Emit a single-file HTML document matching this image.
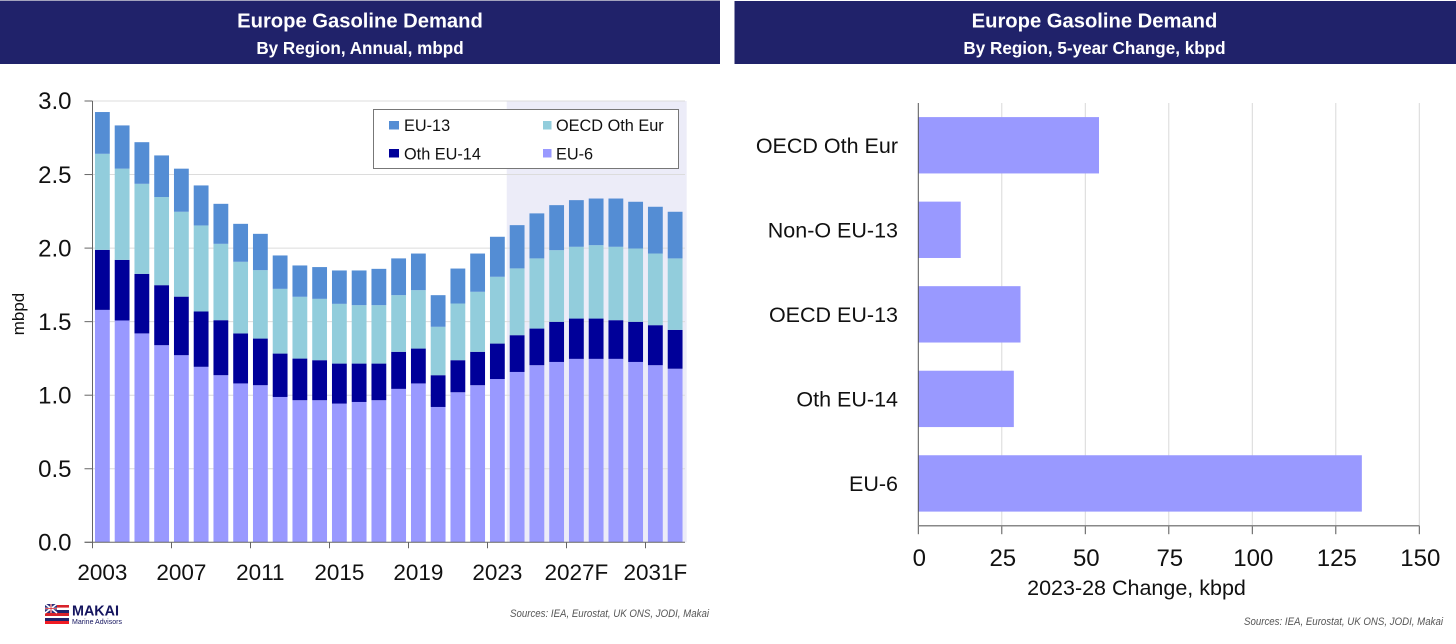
<!DOCTYPE html>
<html lang="en">
<head>
<meta charset="utf-8">
<title>Europe Gasoline Demand</title>
<style>
html,body{margin:0;padding:0;background:#fff;width:1456px;height:644px;overflow:hidden}
svg{display:block;font-family:"Liberation Sans",sans-serif}
</style>
</head>
<body>
<svg id="root" width="1456" height="644" viewBox="0 0 1456 644" xmlns="http://www.w3.org/2000/svg">
  <rect x="0" y="0" width="1456" height="644" fill="#ffffff"/>

  <g>
    <rect x="0" y="0" width="720" height="1" fill="#a3a3bd"/>
    <rect x="0" y="1" width="720" height="63" fill="#20226a"/>
    <text x="360" y="27.5" text-anchor="middle" font-size="20.2" font-weight="700" fill="#fff">Europe Gasoline Demand</text>
    <text x="360" y="54" text-anchor="middle" font-size="17.1" font-weight="700" fill="#fff">By Region, Annual, mbpd</text>
  </g>
  <g>
    <rect x="734.5" y="1" width="721.5" height="63" fill="#20226a"/>
    <text x="1094.5" y="27.5" text-anchor="middle" font-size="20.2" font-weight="700" fill="#fff">Europe Gasoline Demand</text>
    <text x="1094.5" y="54" text-anchor="middle" font-size="17.1" font-weight="700" fill="#fff">By Region, 5-year Change, kbpd</text>
  </g>

  <g id="left-chart"></g>

  <g>
    <rect x="373.5" y="109.5" width="305" height="59" fill="#fff" stroke="#777" stroke-width="1"/>
    <g>
      <rect x="389" y="121" width="10" height="8.5" fill="#548dd4"/>
      <text x="404" y="131" font-size="16.3" fill="#111">EU-13</text>
    </g>
    <g>
      <rect x="543" y="121" width="8.5" height="8.5" fill="#92cddc"/>
      <text x="556" y="131" font-size="16.3" fill="#111">OECD Oth Eur</text>
    </g>
    <g>
      <rect x="389" y="149" width="10" height="8.5" fill="#000099"/>
      <text x="404" y="159.5" font-size="16.3" fill="#111">Oth EU-14</text>
    </g>
    <g>
      <rect x="543" y="149" width="8.5" height="8.5" fill="#9999ff"/>
      <text x="556" y="159.5" font-size="16.3" fill="#111">EU-6</text>
    </g>
  </g>

  <text transform="translate(24,314) rotate(-90)" text-anchor="middle" font-size="17" fill="#111">mbpd</text>

  <g id="right-chart"></g>

  <text x="1136.5" y="595" text-anchor="middle" font-size="21.5" fill="#111">2023-28 Change, kbpd</text>

  <text x="510" y="617" font-size="11.3" font-style="italic" fill="#555" textLength="199" lengthAdjust="spacingAndGlyphs">Sources: IEA, Eurostat, UK ONS, JODI, Makai</text>
  <text x="1244" y="625" font-size="11.3" font-style="italic" fill="#555" textLength="199" lengthAdjust="spacingAndGlyphs">Sources: IEA, Eurostat, UK ONS, JODI, Makai</text>

  <g>
    <g>
      <rect x="45" y="604" width="24" height="20" fill="#fff"/>
      <rect x="45" y="605" width="24" height="2.6" fill="#d8232a"/>
      <rect x="45" y="610" width="24" height="3" fill="#20226a"/>
      <rect x="45" y="613" width="24" height="3" fill="#d8232a"/>
      <rect x="45" y="618" width="24" height="3" fill="#20226a"/>
      <rect x="45" y="621" width="24" height="3" fill="#f01c24"/>
      <rect x="45" y="604" width="12" height="9" fill="#2a2f7a"/>
      <path d="M45 604L57 613M57 604L45 613M51 604V613M45 608.5H57" stroke="#fff" stroke-width="1.6"/>
      <path d="M51 604V613M45 608.5H57" stroke="#d8232a" stroke-width="0.8"/>
    </g>
    <text x="72" y="615.5" font-size="14.5" font-weight="700" fill="#14145e" textLength="47" lengthAdjust="spacingAndGlyphs">MAKAI</text>
    <text x="72" y="624" font-size="7.5" fill="#14145e" textLength="50" lengthAdjust="spacingAndGlyphs">Marine Advisors</text>
  </g>
</svg>

<script>
const years = [2003,2004,2005,2006,2007,2008,2009,2010,2011,2012,2013,2014,2015,2016,2017,2018,2019,2020,2021,2022,2023,2024,2025,2026,2027,2028,2029,2030,2031,2032];
const eu6 = [1.58,1.508,1.42,1.34,1.272,1.193,1.136,1.08,1.068,0.988,0.966,0.966,0.943,0.954,0.966,1.043,1.08,0.92,1.02,1.068,1.11,1.158,1.204,1.226,1.247,1.247,1.247,1.226,1.204,1.18];
const othEu14 = [0.408,0.412,0.405,0.408,0.398,0.376,0.374,0.34,0.317,0.295,0.283,0.272,0.272,0.261,0.249,0.252,0.237,0.216,0.218,0.227,0.241,0.25,0.249,0.273,0.274,0.274,0.263,0.273,0.272,0.264];
const oecdOthEur = [0.653,0.62,0.612,0.599,0.577,0.585,0.519,0.487,0.465,0.44,0.42,0.417,0.406,0.397,0.397,0.385,0.397,0.329,0.385,0.408,0.454,0.454,0.477,0.487,0.488,0.499,0.499,0.498,0.487,0.486];
const eu13 = [0.284,0.294,0.283,0.283,0.293,0.272,0.272,0.258,0.247,0.227,0.213,0.216,0.227,0.236,0.247,0.25,0.249,0.215,0.238,0.26,0.272,0.294,0.306,0.306,0.317,0.317,0.328,0.318,0.318,0.317];
const yTickValues = [0,0.5,1,1.5,2,2.5,3];
const yTickLabels = ['0.0','0.5','1.0','1.5','2.0','2.5','3.0'];
const xTickYears = [2003,2007,2011,2015,2019,2023,2027,2031];
const xTickLabels = ['2003','2007','2011','2015','2019','2023','2027F','2031F'];
const forecastStartYear = 2024;

const regions = ['OECD Oth Eur','Non-O EU-13','OECD EU-13','Oth EU-14','EU-6'];
const changes = [54.1,12.7,30.6,28.6,132.8];
const changeTicks = [0,25,50,75,100,125,150];

const NS = 'http://www.w3.org/2000/svg';
function make(parent, tag, attrs, text) {
  const el = document.createElementNS(NS, tag);
  for (const k in attrs) el.setAttribute(k, attrs[k]);
  if (text !== undefined) el.textContent = text;
  parent.appendChild(el);
  return el;
}

/* left chart axes */
const L = {x0: 92.5, x1: 685, yBase: 542.3, yTop: 101, vMax: 3};
const band = (L.x1 - L.x0) / years.length;
function xLeft(i) { return L.x0 + band * i; }
function yLeft(v) { return L.yBase - (v / L.vMax) * (L.yBase - L.yTop); }

const left = document.getElementById('left-chart');

const shade = make(left, 'rect', {
  x: xLeft(years.indexOf(forecastStartYear)) - 0.5,
  y: yLeft(L.vMax),
  width: L.x1 + 1.7 - xLeft(years.indexOf(forecastStartYear)) + 0.5,
  height: L.yBase - yLeft(L.vMax),
  fill: '#ececf8'
});



yTickValues.forEach(function (v, i) {
  if (v > 0) {
    const grid = make(left, 'line', {x1: L.x0, x2: L.x1, y1: yLeft(v), y2: yLeft(v), stroke: '#dcdcdc', 'stroke-width': 1});
    
    
  }
  const tick = make(left, 'line', {x1: L.x0 - 8, x2: L.x0, y1: yLeft(v), y2: yLeft(v), stroke: '#666', 'stroke-width': 1});
  
  
  const label = make(left, 'text', {x: 71.5, y: yLeft(v) + 8.2, 'text-anchor': 'end', 'font-size': 24, fill: '#111'}, yTickLabels[i]);
  
  
});

const stackSeries = [
  {key: 'eu-6', values: eu6, color: '#9999ff'},
  {key: 'oth-eu-14', values: othEu14, color: '#000099'},
  {key: 'oecd-oth-eur', values: oecdOthEur, color: '#92cddc'},
  {key: 'eu-13', values: eu13, color: '#548dd4'}
];
years.forEach(function (year, i) {
  let base = 0;
  stackSeries.forEach(function (s) {
    const top = base + s.values[i];
    const seg = make(left, 'rect', {
      x: xLeft(i) + band * 0.125,
      y: yLeft(top),
      width: band * 0.75,
      height: yLeft(base) - yLeft(top),
      fill: s.color
    });
    
    
    base = top;
  });
});

const leftYAxis = make(left, 'line', {x1: L.x0, x2: L.x0, y1: L.yTop, y2: L.yBase, stroke: '#666', 'stroke-width': 1});


const leftXAxis = make(left, 'line', {x1: L.x0 - 8, x2: L.x1, y1: L.yBase, y2: L.yBase, stroke: '#666', 'stroke-width': 1});



xTickYears.forEach(function (yr, i) {
  const idx = years.indexOf(yr);
  const tick = make(left, 'line', {x1: xLeft(idx), x2: xLeft(idx), y1: L.yBase, y2: L.yBase + 6, stroke: '#666', 'stroke-width': 1});
  
  
  const label = make(left, 'text', {x: xLeft(idx) + band / 2, y: 580, 'text-anchor': 'middle', 'font-size': 22.5, fill: '#111'}, xTickLabels[i]);
  
  
});

/* right chart axes */
const R = {x0: 918.3, x1: 1419.3, yTop: 103, yBase: 525.7, vMax: 150};
const rowH = (R.yBase - R.yTop) / regions.length;
function xRight(v) { return R.x0 + (v / R.vMax) * (R.x1 - R.x0); }
function yRight(i) { return R.yTop + rowH * i; }

const right = document.getElementById('right-chart');

changeTicks.forEach(function (v) {
  if (v > 0) {
    const grid = make(right, 'line', {x1: xRight(v), x2: xRight(v), y1: R.yTop, y2: R.yBase, stroke: '#d8d8d8', 'stroke-width': 1});
    
    
  }
  const tick = make(right, 'line', {x1: xRight(v), x2: xRight(v), y1: R.yBase, y2: R.yBase + 8.5, stroke: '#555', 'stroke-width': 1});
  
  
  const label = make(right, 'text', {x: xRight(v) + 1, y: 566, 'text-anchor': 'middle', 'font-size': 24, fill: '#111'}, String(v));
  
  
});

regions.forEach(function (name, i) {
  const bar = make(right, 'rect', {
    x: R.x0,
    y: yRight(i) + rowH / 6,
    width: xRight(changes[i]) - R.x0,
    height: rowH * 2 / 3,
    fill: '#9999ff'
  });
  
  
  const label = make(right, 'text', {x: 898, y: yRight(i) + rowH / 2 + 7.5, 'text-anchor': 'end', 'font-size': 21.5, fill: '#111'}, name);
  
  
});

const rightYAxis = make(right, 'line', {x1: R.x0, x2: R.x0, y1: R.yTop, y2: R.yBase, stroke: '#555', 'stroke-width': 1});


const rightXAxis = make(right, 'line', {x1: R.x0, x2: R.x1, y1: R.yBase, y2: R.yBase, stroke: '#888', 'stroke-width': 1.5});


</script>
</body>
</html>
